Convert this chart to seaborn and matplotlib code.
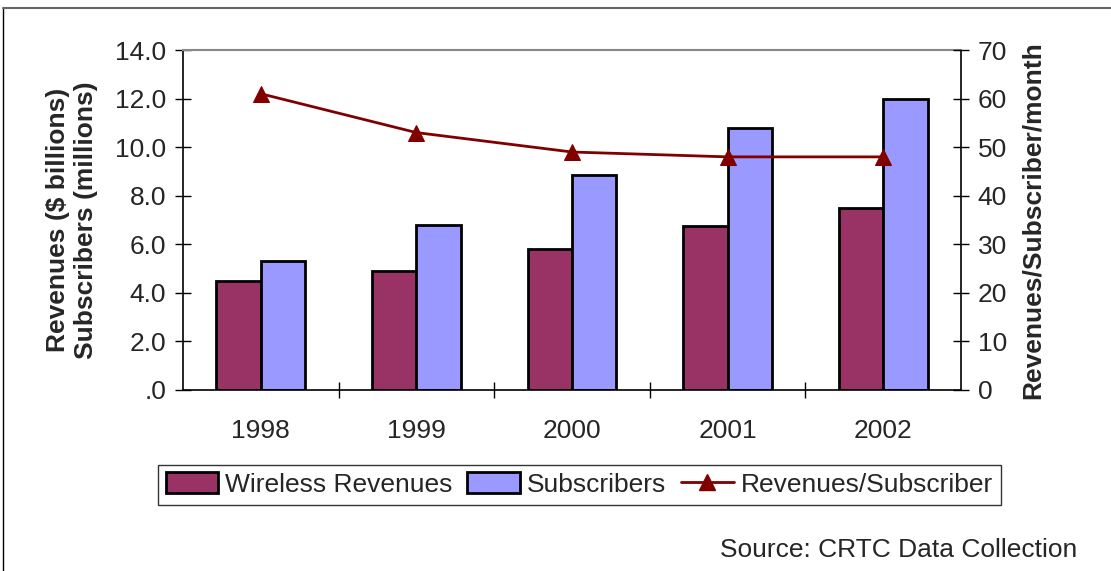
import numpy as np
import pandas as pd
import matplotlib
matplotlib.use("Agg")
import matplotlib.pyplot as plt
from matplotlib.lines import Line2D
from matplotlib.patches import Patch
import seaborn as sns

# Data
years = ["1998", "1999", "2000", "2001", "2002"]
wireless_revenues = [4.5, 4.9, 5.8, 6.75, 7.5]          # $ billions
subscribers = [5.3, 6.8, 8.85, 10.8, 12.0]              # millions
revenue_per_subscriber = [61, 53, 49, 48, 48]           # $ per month
series_names = ["Wireless Revenues", "Subscribers", "Revenues/Subscriber"]
left_ticks = [0, 2, 4, 6, 8, 10, 12, 14]
left_ticklabels = [".0", "2.0", "4.0", "6.0", "8.0", "10.0", "12.0", "14.0"]
right_ticks = [0, 10, 20, 30, 40, 50, 60, 70]

sns.set_theme(style="white")
plt.rcParams["font.family"] = ["Liberation Sans", "DejaVu Sans"]

FS = 19
bar_colors = ["#993366", "#9999FF"]
line_color = "#800000"

df = pd.DataFrame({
    "Year": years * 2,
    "Value": wireless_revenues + subscribers,
    "Series": [series_names[0]] * len(years) + [series_names[1]] * len(years),
})

fig = plt.figure(figsize=(11.11, 5.71), dpi=100)
ax = fig.add_axes([0.1647, 0.317, 0.7003, 0.5954])

sns.barplot(data=df, x="Year", y="Value", hue="Series", palette=bar_colors,
            width=0.57, gap=0, edgecolor="black", linewidth=2, saturation=1,
            ax=ax, legend=False)

ax.set_xlim(-0.5, len(years) - 0.5)
ax.set_ylim(0, 14)
ax.set_yticks(left_ticks)
ax.set_yticklabels(left_ticklabels)
ax.set_xticks(range(len(years)))
ax.set_xticklabels(years)
ax.set_xticks(np.arange(0.5, len(years) - 1, 1.0), minor=True)
ax.tick_params(axis="x", which="major", length=0, pad=21, labelsize=FS)
ax.tick_params(axis="x", which="minor", direction="inout", length=12,
               width=1, color="black", bottom=True)
ax.tick_params(axis="y", direction="inout", length=12, width=1,
               color="black", labelsize=FS, pad=6, left=True)
ax.set_xlabel("")
ax.set_ylabel("Revenues (\\$ billions)\nSubscribers (millions)",
              fontsize=FS, fontweight="bold", labelpad=12, linespacing=1.25)

for side in ["left", "right", "bottom"]:
    ax.spines[side].set_color("black")
    ax.spines[side].set_linewidth(1.2)
ax.spines["top"].set_color("#888888")
ax.spines["top"].set_linewidth(1.5)

ax2 = ax.twinx()
sns.lineplot(x=np.arange(len(years)), y=revenue_per_subscriber, ax=ax2,
             color=line_color, linewidth=2, marker="^", markersize=12,
             markeredgecolor=line_color, markerfacecolor=line_color)
ax2.set_ylim(0, 70)
ax2.set_yticks(right_ticks)
ax2.tick_params(axis="y", direction="inout", length=12, width=1,
                color="black", labelsize=FS, pad=6, right=True)
ax2.set_ylabel("Revenues/Subscriber/month", fontsize=FS, fontweight="bold",
               labelpad=10)
for sp in ax2.spines.values():
    sp.set_visible(False)
ax.set_xlim(-0.5, len(years) - 0.5)

handles = [
    Patch(facecolor=bar_colors[0], edgecolor="black", linewidth=2),
    Patch(facecolor=bar_colors[1], edgecolor="black", linewidth=2),
    Line2D([0], [0], color=line_color, linewidth=2, marker="^",
           markersize=12, markerfacecolor=line_color),
]
leg = fig.legend(handles, series_names, loc="center",
                 bbox_to_anchor=(0.5215, 0.151), ncol=3, fontsize=FS,
                 frameon=True, fancybox=False, edgecolor="black",
                 handlelength=2.0, handleheight=0.85, handletextpad=0.27,
                 columnspacing=0.55, borderpad=0.3, borderaxespad=0)
leg.get_frame().set_linewidth(1)

fig.text(0.970, 0.037, "Source: CRTC Data Collection", ha="right",
         va="center", fontsize=FS)

# outer frame lines along the top and left edges
fig.add_artist(Line2D([0.003, 0.003], [0.0, 0.986], transform=fig.transFigure,
                      color="black", linewidth=1))
fig.add_artist(Line2D([0.003, 1.0], [0.986, 0.986], transform=fig.transFigure,
                      color="#666666", linewidth=1.5))

fig.savefig("out.png", dpi=100)
